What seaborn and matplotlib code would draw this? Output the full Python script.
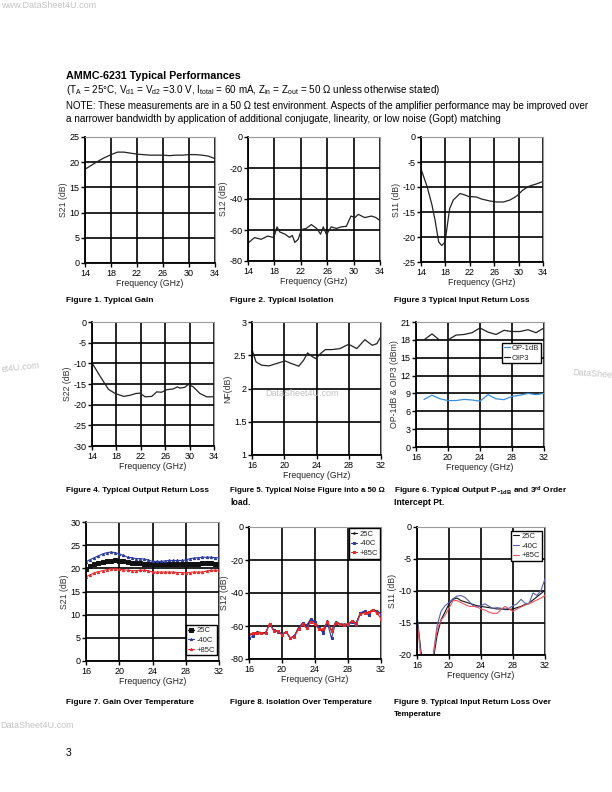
import seaborn as sns
import matplotlib.pyplot as plt
import numpy as np

W, H = 612, 792

# ---------------- data ----------------
# Fig 1 - typical gain
freq_gain = [14, 15, 16, 17, 18, 19, 20, 21, 22, 23, 24, 25, 26, 27, 28, 29, 30, 31, 32, 33, 34]
s21_typ = [18.6, 19.4, 20.2, 20.9, 21.5, 22.0, 22.0, 21.8, 21.6, 21.5, 21.4, 21.4, 21.4, 21.3,
           21.4, 21.4, 21.5, 21.5, 21.4, 21.2, 20.7]

# Fig 2 - typical isolation
freq_iso = [14, 15, 16, 17, 17.9, 18.4, 18.8, 19.6, 20.3, 20.7, 21.1, 21.6, 22.1, 22.8, 23.6,
            24.4, 25, 25.4, 25.9, 26.6, 27.4, 28.1, 28.9, 29.6, 30.2, 30.7, 31.7, 32.7, 33.4, 34]
s12_typ = [-68.4, -64.9, -66, -63.9, -64.9, -58, -61.2, -62.7, -64.8, -63.5, -68, -66, -59.7,
           -59, -56.5, -59, -62.7, -58, -63, -58, -59, -58, -57.6, -51, -52, -49.9, -52, -51,
           -52, -54]

# Fig 3 - typical input return loss
freq_s11 = [14, 15, 15.8, 16.3, 16.9, 17.4, 17.96, 18.2, 18.7, 19.3, 20.4, 21.2, 21.8, 23.1,
            23.9, 25.3, 26.4, 27.5, 28.6, 29.7, 30.7, 31.8, 32.9, 34]
s11_typ = [-6.4, -9.9, -13.6, -16.6, -21, -21.7, -21, -18.7, -14.3, -12.6, -11.3, -11.6, -11.9,
           -12, -12.4, -12.8, -13, -13, -12.6, -11.8, -10.6, -9.8, -9.4, -8.9]

# Fig 4 - typical output return loss
freq_s22 = [14, 15.4, 16.7, 17.8, 19.2, 20.3, 21.2, 21.9, 22.7, 23.8, 24.6, 25.4, 26.2, 27.3,
            28, 28.4, 29.2, 29.8, 30.6, 31.7, 32.8, 34]
s22_typ = [-9.9, -13.3, -16.3, -17.3, -18, -17.7, -17.3, -17.2, -18.1, -18, -16.9, -17, -16.4,
           -16.2, -15.7, -16, -15.8, -15.1, -15.7, -17.3, -18.1, -18.1]

# Fig 5 - noise figure
freq_nf = [16, 16.5, 17.2, 18.1, 19.3, 20.1, 20.9, 21.8, 22.4, 22.9, 23.4, 23.9, 24.5, 25.1,
           25.9, 26.9, 28, 29, 30, 30.9, 31.5, 32]
nf_typ = [2.585, 2.4, 2.35, 2.34, 2.385, 2.415, 2.375, 2.335, 2.425, 2.535, 2.485, 2.45, 2.525,
          2.585, 2.585, 2.6, 2.665, 2.6, 2.735, 2.65, 2.675, 2.785]

# Fig 6 - output P-1dB and OIP3
freq_pwr = [17, 18, 19, 20, 21, 22, 23, 24, 25, 26, 27, 28, 29, 30, 31, 32]
op1db = [8.0, 8.7, 8.1, 7.8, 7.8, 8.0, 7.9, 7.7, 8.8, 8.1, 7.95, 8.5, 8.7, 9.0, 8.8, 9.0]
oip3 = [18.0, 19.0, 17.9, 18.0, 18.8, 18.9, 19.2, 20.0, 19.3, 18.9, 19.6, 19.4, 19.4, 19.7,
        19.2, 20.0]

# Figs 7-9 - over temperature, 0.5 GHz steps from 16 to 32 GHz
freq_temp = [16, 16.5, 17, 17.5, 18, 18.5, 19, 19.5, 20, 20.5, 21, 21.5, 22, 22.5, 23, 23.5,
             24, 24.5, 25, 25.5, 26, 26.5, 27, 27.5, 28, 28.5, 29, 29.5, 30, 30.5, 31, 31.5, 32]
temp_labels = ["25C", "-40C", "+85C"]

s21_25c = [19.9, 20.4, 20.9, 21.1, 21.3, 21.5, 21.6, 21.7, 21.6, 21.5, 21.3, 21.2, 21.1, 21.1,
           21.0, 21.0, 20.9, 20.9, 20.9, 20.9, 20.9, 20.9, 20.9, 20.9, 20.9, 20.9, 20.9, 21.0,
           21.1, 21.1, 21.1, 21.0, 21.0]
s21_m40c = [21.4, 21.9, 22.3, 22.7, 23.1, 23.4, 23.5, 23.4, 23.1, 22.8, 22.4, 22.3, 22.1, 22.1,
            22.0, 21.8, 21.5, 21.5, 21.5, 21.6, 21.7, 21.7, 21.7, 21.7, 21.8, 22.1, 22.2, 22.3,
            22.4, 22.4, 22.4, 22.3, 22.3]
s21_p85c = [18.2, 18.6, 19.0, 19.3, 19.5, 19.7, 19.9, 19.9, 19.8, 19.7, 19.6, 19.5, 19.5, 19.6,
            19.6, 19.5, 19.2, 19.2, 19.2, 19.2, 19.2, 19.2, 19.1, 19.1, 19.0, 19.1, 19.2, 19.2,
            19.2, 19.4, 19.6, 19.6, 19.6]

s12_25c = [-65, -65, -63.5, -64, -64, -59, -62.5, -63, -65, -63.5, -67.5, -66, -61, -58.5, -60,
           -56.5, -58, -62, -63, -57, -63, -57.5, -58.5, -59, -59, -57, -58, -52, -51.5, -52,
           -50, -51, -52.5]
s12_m40c = [-67.5, -66, -64, -64.5, -64.5, -58.5, -62.5, -63.5, -65, -63.5, -67.5, -66, -61.5,
            -58, -59.5, -55.5, -57.5, -61, -64.5, -58, -67.5, -58, -58.5, -59.5, -59.5, -57.5,
            -59.5, -52, -51, -53.5, -50, -51.5, -52.5]
s12_p85c = [-65, -64.5, -64, -64, -64.5, -58.5, -63, -63, -65.5, -63.5, -67, -66.5, -62, -59,
            -61.5, -57.5, -59, -62, -62, -57.5, -63, -58, -59, -59.5, -58.5, -57, -58.5, -53,
            -52, -51.5, -50.5, -52, -55.5]

s11_25c = [-14, -19.5, -22.5, -23, -21, -17, -14.5, -13.3, -12, -11.3, -11.1, -11.5, -11.7,
           -11.9, -12.1, -12.3, -12.4, -12.5, -12.6, -12.7, -12.8, -12.8, -12.9, -12.9, -12.8,
           -12.6, -12.4, -12.1, -11.9, -11.4, -10.9, -10.4, -9.9]
s11_m40c = [-13.5, -20.5, -23, -23, -20.5, -15.5, -13.2, -12.3, -11.8, -11.2, -10.8, -10.7,
            -11.0, -11.6, -12.3, -12.5, -12.3, -12.0, -12.4, -12.7, -12.6, -12.7, -12.8, -12.7,
            -12.3, -12.0, -11.3, -11.9, -12.0, -10.3, -10.7, -9.9, -8.1]
s11_p85c = [-14.5, -20.5, -22.5, -23, -20.2, -16, -14.6, -13.8, -12.7, -11.5, -11.5, -11.8,
            -12.1, -12.4, -12.4, -12.5, -12.8, -13.0, -13.3, -13.5, -13.5, -12.9, -12.4, -12.8,
            -13.2, -12.8, -12.5, -12.2, -12.0, -11.7, -11.4, -11.1, -10.7]

# ---------------- style ----------------
sns.set_style("white")
plt.rcParams["font.family"] = ["Liberation Sans", "DejaVu Sans"]
plt.rcParams["mathtext.default"] = "regular"
plt.rcParams["axes.unicode_minus"] = False

BLUE = "#2b3a9e"
RED = "#e8272a"
LBLUE = "#3a8fd6"
WM = "#c4c4c4"

fig = plt.figure(figsize=(W / 100, H / 100), dpi=100)


def px_axes(l, t, r, b):
    return fig.add_axes([l / W, 1 - b / H, (r - l) / W, (b - t) / H])


def style(ax, xlim, xticks, ylim, yticks, ylabel):
    ax.set_xlim(*xlim)
    ax.set_ylim(*ylim)
    ax.set_xticks(xticks)
    ax.set_yticks(yticks)
    ax.grid(True, color="black", lw=1.2)
    for s in ["left", "bottom"]:
        ax.spines[s].set_color("black")
        ax.spines[s].set_linewidth(1.3)
    for s in ["top", "right"]:
        ax.spines[s].set_color("#999999")
        ax.spines[s].set_linewidth(0.8)
    ax.tick_params(direction="out", length=3, width=1, labelsize=6.5, pad=1,
                   left=True, bottom=True, colors="black")
    ax.set_xlabel("Frequency (GHz)", fontsize=6.3, labelpad=1, color="#222222")
    ax.set_ylabel(ylabel, fontsize=6.3, labelpad=1, color="#333333")


def line(ax, x, y, color, lw=0.9, label=None, **kw):
    sns.lineplot(x=x, y=y, ax=ax, color=color, lw=lw, label=label, legend=False, **kw)


def legend(ax, loc, anchor):
    lg = ax.legend(loc=loc, bbox_to_anchor=anchor, fontsize=5.5, frameon=True, fancybox=False,
                   handlelength=0.8, handletextpad=0.3, borderpad=0.25, labelspacing=0.3,
                   borderaxespad=0)
    lg.get_frame().set_edgecolor("black")
    lg.get_frame().set_linewidth(1.0)
    lg.get_frame().set_alpha(1)
    return lg


x14 = [14, 18, 22, 26, 30, 34]
x16 = [16, 20, 24, 28, 32]

# Row 1
ax1 = px_axes(85, 137, 215, 263)
line(ax1, freq_gain, s21_typ, "#222222")
style(ax1, (14, 34), x14, (0, 25), range(0, 26, 5), "S21 (dB)")

ax2 = px_axes(248, 137, 380, 261)
line(ax2, freq_iso, s12_typ, "#222222")
style(ax2, (14, 34), x14, (-80, 0), range(-80, 1, 20), "S12 (dB)")

ax3 = px_axes(421, 137, 543, 262)
line(ax3, freq_s11, s11_typ, "#222222")
style(ax3, (14, 34), x14, (-25, 0), range(-25, 1, 5), "S11 (dB)")

# Row 2
ax4 = px_axes(92, 322, 214, 446)
line(ax4, freq_s22, s22_typ, "#222222")
style(ax4, (14, 34), x14, (-30, 0), range(-30, 1, 5), "S22 (dB)")

ax5 = px_axes(252, 322, 381, 455)
line(ax5, freq_nf, nf_typ, "#222222")
style(ax5, (16, 32), x16, (1, 3), [1, 1.5, 2, 2.5, 3], "NF(dB)")
ax5.set_yticklabels(["1", "1.5", "2", "2.5", "3"])

ax6 = px_axes(416, 322, 544, 447)
line(ax6, freq_pwr, op1db, LBLUE, label="OP-1dB")
line(ax6, freq_pwr, oip3, "#222222", label="OIP3")
style(ax6, (16, 32), x16, (0, 21), range(0, 22, 3), "OP-1dB & OIP3 (dBm)")
legend(ax6, "upper left", (0.67, 0.835))

# Row 3
ax7 = px_axes(86, 522, 219, 661)
line(ax7, freq_temp, s21_25c, "#111111", lw=1.0, label=temp_labels[0], marker="s", ms=2.6,
     mec="#111111")
line(ax7, freq_temp, s21_m40c, BLUE, lw=0.8, label=temp_labels[1], marker="^", ms=1.6,
     mec=BLUE)
line(ax7, freq_temp, s21_p85c, RED, lw=0.8, label=temp_labels[2], marker="^", ms=1.6, mec=RED)
style(ax7, (16, 32), x16, (0, 30), range(0, 31, 5), "S21 (dB)")
legend(ax7, "lower right", (0.985, 0.04))

ax8 = px_axes(249, 527, 381, 659)
line(ax8, freq_temp, s12_25c, "#111111", lw=0.8, label=temp_labels[0], marker=".", ms=2,
     mec="#111111")
line(ax8, freq_temp, s12_m40c, BLUE, lw=0.8, label=temp_labels[1], marker="s", ms=2.0,
     mec=BLUE)
line(ax8, freq_temp, s12_p85c, RED, lw=0.8, label=temp_labels[2], marker="s", ms=2.0, mec=RED)
style(ax8, (16, 32), x16, (-80, 0), range(-80, 1, 20), "S12 (dB)")
legend(ax8, "upper right", (0.99, 0.99))

ax9 = px_axes(417, 527, 545, 655)
line(ax9, freq_temp, s11_25c, "#111111", lw=0.8, label=temp_labels[0])
line(ax9, freq_temp, s11_m40c, "#5560b0", lw=0.8, label=temp_labels[1])
line(ax9, freq_temp, s11_p85c, "#ee5560", lw=0.8, label=temp_labels[2])
style(ax9, (16, 32), x16, (-20, 0), range(-20, 1, 5), "S11 (dB)")
legend(ax9, "upper right", (0.977, 0.97))


# ---------------- page text ----------------
def ptext(x, y, s, size=6.2, bold=False, color="black", width=None, **kw):
    t = fig.text(x / W, 1 - y / H, s, fontsize=size, fontweight="bold" if bold else "normal",
                 color=color, va="center", ha=kw.pop("ha", "left"), **kw)
    if width:
        # shrink the font if the line runs wider than the room it has on the page
        r = fig.canvas.get_renderer()
        w = t.get_window_extent(r).width
        if w > width:
            t.set_fontsize(size * width / w)
    return t


BODY = 1.1   # body lines may run a bit wider than the condensed original
CAP = 1.22   # captions likewise

ptext(66, 76, "AMMC-6231 Typical Performances", size=8, bold=True, width=143 * CAP)
ptext(66, 90, "(T$_A$ = 25°C, V$_{d1}$ = V$_{d2}$ =3.0 V, I$_{total}$ = 60 mA, "
      "Z$_{in}$ = Z$_{out}$ = 50 Ω unless otherwise stated)", size=7.4, width=338 * BODY)
ptext(66, 106, "NOTE: These measurements are in a 50 Ω test environment. Aspects of the amplifier "
      "performance may be improved over", size=7.4, width=478 * BODY)
ptext(66, 119, "a narrower bandwidth by application of additional conjugate, linearity, or low "
      "noise (Gopt) matching", size=7.4, width=394 * BODY)

ptext(66, 300, "Figure 1. Typical Gain", bold=True, width=72 * CAP)
ptext(230, 300, "Figure 2. Typical Isolation", bold=True, width=85 * CAP)
ptext(394, 300, "Figure 3 Typical Input Return Loss", bold=True, width=112 * CAP)
ptext(66, 491, "Figure 4. Typical Output Return Loss", bold=True, width=118 * CAP)
ptext(230, 491, "Figure 5. Typical Noise Figure into a 50 Ω", bold=True, width=156)
ptext(230, 503, "load.", bold=True, width=17 * CAP)
ptext(394, 491, "Figure 6. Typical Output P$_{-1dB}$ and 3$^{rd}$ Order", bold=True,
      width=142 * CAP)
ptext(394, 503, "Intercept Pt.", bold=True, width=42 * CAP)
ptext(66, 703, "Figure 7. Gain Over Temperature", bold=True, width=106 * CAP)
ptext(230, 703, "Figure 8. Isolation Over Temperature", bold=True, width=118 * CAP)
ptext(394, 703, "Figure 9. Typical Input Return Loss Over", bold=True, width=130 * CAP)
ptext(394, 715, "Temperature", bold=True, width=40 * CAP)

ptext(66, 753, "3", size=7.5)

# watermarks (the two at the page edges only show partly in the scan)
ptext(1, 6, "www.DataSheet4U.com", size=6.5, color=WM, width=106)
ptext(40, 367, "et4U.com", size=6.5, color=WM, ha="right", rotation=6)
ptext(572, 374, "DataShee", size=6.5, color=WM, rotation=-4)
ptext(265, 394, "DataSheet4U.com", size=6.5, color=WM, width=82)
ptext(0, 726, "DataSheet4U.com", size=6.5, color=WM, width=80)

fig.savefig("out.png", dpi=100)
